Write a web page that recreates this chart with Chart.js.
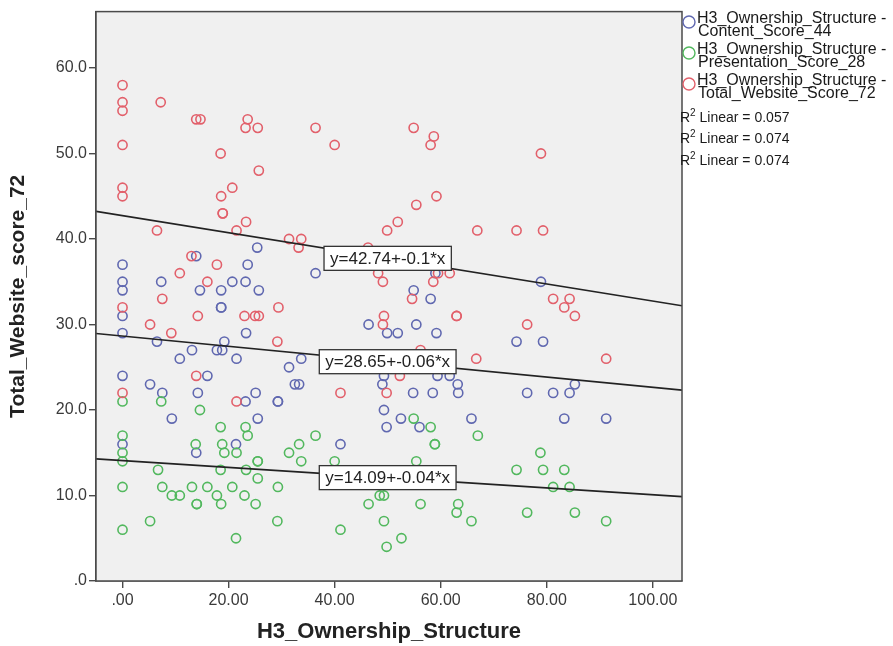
<!DOCTYPE html>
<html>
<head>
<meta charset="utf-8">
<script src="https://cdn.jsdelivr.net/npm/chart.js@4"></script>
<style>
  html, body { margin: 0; padding: 0; background: #ffffff; }
  #wrap { width: 893px; height: 646px; position: relative; }
</style>
</head>
<body>
<div id="wrap"><canvas id="c" width="893" height="646"></canvas></div>
<script>
// ---- data ----
const seriesNames = [
  ['H3_Ownership_Structure -', 'Content_Score_44'],
  ['H3_Ownership_Structure -', 'Presentation_Score_28'],
  ['H3_Ownership_Structure -', 'Total_Website_Score_72']
];
const r2Labels = ['0.057', '0.074', '0.074'];
const fitLabels = ['y=28.65+-0.06*x', 'y=14.09+-0.04*x', 'y=42.74+-0.1*x'];
const fitIntercepts = [28.65, 14.09, 42.74];
const fitSlopes = [-0.06, -0.04, -0.1];

const xTickValues = [0, 20, 40, 60, 80, 100];
const xTickLabels = ['.00', '20.00', '40.00', '60.00', '80.00', '100.00'];
const yTickValues = [0, 10, 20, 30, 40, 50, 60];
const yTickLabels = ['.0', '10.0', '20.0', '30.0', '40.0', '50.0', '60.0'];

const contentX = [13.9,25.4,0,23.6,0,0,7.3,20.7,23.2,14.6,18.6,25.7,18.6,18.6,0,0,23.3,6.5,19.2,13.1,17.8,18.8,10.8,21.5,31.4,0,16,5.2,32.5,7.5,14.2,25.1,23.2,29.3,29.3,9.3,25.5,0,13.9,21.4,
  36.4,59,54.9,58.1,46.4,55.4,49.9,51.9,59.2,33.7,59.4,61.7,49.3,33.3,49,63.2,54.8,58.5,63.3,49.3,52.5,49.8,56,65.8,41.1,
  78.9,74.3,79.3,85.3,76.3,81.2,84.3,83.3,91.2];
const contentY = [38,39,37,37,35,34,35,35,35,34,34,34,32,32,31,29,29,28,28,27,27,27,26,26,25,24,24,23,23,22,22,22,21,21,21,19,19,16,15,16,
  36,36,34,33,30,30,29,29,29,26,24,24,24,23,23,23,22,22,22,20,19,18,18,19,16,
  35,28,28,23,22,22,22,19,19];

const presentationX = [0,7.3,14.6,18.5,23.2,23.6,0,13.8,18.8,0,0,19.2,21.5,31.4,25.5,25.5,6.7,18.5,23.3,25.5,0,7.5,13.1,16,20.7,29.3,9.3,10.8,17.8,23,14,14,18.6,25.1,5.2,29.2,0,21.4,
  54.9,58.1,67,36.4,33.3,58.9,58.9,33.7,40,55.4,48.5,49.3,46.4,56.2,63.3,63,65.8,49.3,41.1,52.6,49.8,
  78.8,74.3,79.3,83.3,81.2,84.3,76.3,85.3,91.2];
const presentationY = [21,21,20,18,18,17,17,16,16,15,14,15,15,15,14,14,13,13,13,12,11,11,11,11,11,11,10,10,10,10,9,9,9,9,7,7,6,5,
  19,18,17,17,16,16,16,14,14,14,10,10,9,9,9,8,7,7,6,5,4,
  15,13,13,13,11,11,8,8,7];

const totalX = [0,0,0,0,0,0,0,0,
  7.2,13.9,14.7,23.6,23.2,25.5,18.5,25.7,20.7,18.6,18.9,18.9,23.3,6.5,21.5,31.4,33.7,
  36.4,40,54.9,58.7,58.1,59.2,55.4,51.9,49.9,66.9,
  78.9,74.3,79.3,
  13,10.8,17.8,16,7.5,29.4,14.2,23,25,25.7,5.2,9.2,29.2,13.9,21.5,
  33.2,46.3,48.2,49.1,59.5,61.7,58.6,54.6,49.3,63,63,49.1,56.2,66.7,52.3,41.1,49.8,
  81.2,84.3,83.3,85.3,76.3,91.2];
const totalY = [58,56,55,51,46,45,32,22,
  56,54,54,54,53,53,50,48,46,45,43,43,42,41,41,40,40,
  53,51,53,52,51,45,44,42,41,41,
  50,41,41,
  38,36,37,35,33,32,31,31,31,31,30,29,28,24,21,
  39,39,36,35,36,36,35,33,31,31,31,30,27,26,24,22,22,
  33,33,32,31,30,26];

// ---- styling ----
const X_MIN = -5, X_MAX = 105.5, Y_MIN = 0, Y_MAX = 66.6;
const colors = ['#6068b0', '#52b85e', '#e2606b'];
const FONT = '"Liberation Sans", Arial, sans-serif';

function pts(xs, ys) { return xs.map((x, i) => ({ x: x, y: ys[i] })); }
function fitPts(i) {
  return [X_MIN, X_MAX].map(x => ({ x: x, y: fitIntercepts[i] + fitSlopes[i] * x }));
}

const pointSets = [pts(contentX, contentY), pts(presentationX, presentationY), pts(totalX, totalY)];

const datasets = [];
for (let i = 0; i < 3; i++) {
  datasets.push({
    label: 'fit' + i,
    data: fitPts(i),
    showLine: true,
    borderColor: '#222222',
    borderWidth: 1.6,
    pointRadius: 0,
    pointHoverRadius: 0,
    fill: false,
    order: 0
  });
}
for (let i = 0; i < 3; i++) {
  datasets.push({
    label: seriesNames[i].join(' '),
    data: pointSets[i],
    showLine: false,
    pointStyle: 'circle',
    pointRadius: 4.6,
    pointBorderWidth: 1.6,
    borderColor: colors[i],
    backgroundColor: 'rgba(0,0,0,0)',
    order: 3 - i
  });
}

const framePlugin = {
  id: 'frame',
  beforeDatasetsDraw(chart) {
    const { ctx, chartArea: a } = chart;
    ctx.save();
    ctx.fillStyle = '#f0f0f0';
    ctx.fillRect(a.left, a.top, a.right - a.left, a.bottom - a.top);
    ctx.restore();
  },
  afterDatasetsDraw(chart) {
    const { ctx, chartArea: a, scales } = chart;
    ctx.save();
    ctx.strokeStyle = '#4a4a4a';
    ctx.lineWidth = 1.5;
    ctx.strokeRect(a.left, a.top, a.right - a.left, a.bottom - a.top);
    // equation labels centred on the fit lines at x = 50
    ctx.font = '17px ' + FONT;
    ctx.textBaseline = 'middle';
    ctx.textAlign = 'center';
    const order = [2, 0, 1];
    order.forEach(i => {
      const xv = 50;
      const px = scales.x.getPixelForValue(xv);
      const py = scales.y.getPixelForValue(fitIntercepts[i] + fitSlopes[i] * xv);
      const w = ctx.measureText(fitLabels[i]).width + 12;
      const h = 24;
      ctx.fillStyle = '#ffffff';
      ctx.fillRect(px - w / 2, py - h / 2, w, h);
      ctx.strokeStyle = '#333333';
      ctx.lineWidth = 1.3;
      ctx.strokeRect(px - w / 2, py - h / 2, w, h);
      ctx.fillStyle = '#222222';
      ctx.fillText(fitLabels[i], px, py + 1);
    });
    ctx.restore();
  },
  afterDraw(chart) {
    const { ctx } = chart;
    ctx.save();
    // legend
    const lx = 689;
    const rows = [22, 53, 84];
    ctx.textAlign = 'left';
    ctx.textBaseline = 'middle';
    for (let i = 0; i < 3; i++) {
      ctx.beginPath();
      ctx.arc(lx, rows[i], 6, 0, Math.PI * 2);
      ctx.strokeStyle = colors[i];
      ctx.lineWidth = 1.4;
      ctx.stroke();
      ctx.fillStyle = '#1a1a1a';
      ctx.font = '16px ' + FONT;
      ctx.fillText(seriesNames[i][0], 697, rows[i] - 3);
      ctx.fillText(seriesNames[i][1], 698, rows[i] + 10);
    }
    const r2Rows = [118, 139.5, 161];
    for (let i = 0; i < 3; i++) {
      const y = r2Rows[i];
      ctx.font = '14px ' + FONT;
      ctx.fillStyle = '#1a1a1a';
      ctx.fillText('R', 680, y);
      const rw = ctx.measureText('R').width;
      ctx.font = '10px ' + FONT;
      ctx.fillText('2', 680 + rw, y - 5);
      const sw = ctx.measureText('2').width;
      ctx.font = '14px ' + FONT;
      ctx.fillText(' Linear = ' + r2Labels[i], 680 + rw + sw, y);
    }
    ctx.restore();
  }
};

new Chart(document.getElementById('c'), {
  type: 'scatter',
  data: { datasets: datasets },
  options: {
    responsive: false,
    animation: false,
    events: [],
    layout: { padding: { left: 0, right: 211, top: 8, bottom: 0 } },
    plugins: { legend: { display: false }, tooltip: { enabled: false }, title: { display: false } },
    scales: {
      x: {
        type: 'linear',
        min: X_MIN,
        max: X_MAX,
        afterBuildTicks(scale) { scale.ticks = xTickValues.map(v => ({ value: v })); },
        afterFit(scale) { scale.height = 65; },
        ticks: {
          autoSkip: false,
          maxRotation: 0,
          padding: 3,
          color: '#3a3a3a',
          font: { family: FONT, size: 16 },
          callback(v) { const k = xTickValues.indexOf(v); return k >= 0 ? xTickLabels[k] : ''; }
        },
        grid: { drawOnChartArea: false, drawTicks: true, tickLength: 7, color: '#4a4a4a', lineWidth: 1.4 },
        border: { display: true, color: '#4a4a4a', width: 1.5 },
        title: {
          display: true,
          text: 'H3_Ownership_Structure',
          color: '#222222',
          font: { family: FONT, size: 22, weight: 'bold' },
          padding: { top: 0, bottom: 1 }
        }
      },
      y: {
        type: 'linear',
        min: Y_MIN,
        max: Y_MAX,
        afterBuildTicks(scale) { scale.ticks = yTickValues.map(v => ({ value: v })); },
        afterFit(scale) { scale.width = 96; },
        ticks: {
          autoSkip: false,
          padding: 2,
          color: '#3a3a3a',
          font: { family: FONT, size: 16 },
          callback(v) { const k = yTickValues.indexOf(v); return k >= 0 ? yTickLabels[k] : ''; }
        },
        grid: { drawOnChartArea: false, drawTicks: true, tickLength: 7, color: '#4a4a4a', lineWidth: 1.4 },
        border: { display: true, color: '#4a4a4a', width: 1.5 },
        title: {
          display: true,
          text: 'Total_Website_score_72',
          color: '#222222',
          font: { family: FONT, size: 21, weight: 'bold' },
          padding: { top: 6, bottom: 0 }
        }
      }
    }
  },
  plugins: [framePlugin]
});
</script>
</body>
</html>
